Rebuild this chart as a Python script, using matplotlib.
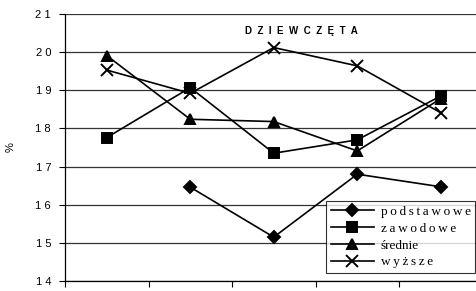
import matplotlib
matplotlib.use("Agg")
import matplotlib.pyplot as plt
import numpy as np

categories = [1, 2, 3, 4, 5]
podstawowe = [np.nan, 16.46, 15.15, 16.80, 16.47]
zawodowe = [17.76, 19.07, 17.35, 17.70, 18.85]
srednie = [19.91, 18.24, 18.18, 17.41, 18.78]
wyzsze = [19.53, 18.92, 20.12, 19.64, 18.41]

thin = "\u2009"
labels = [thin.join("podstawowe"), thin.join("zawodowe"), "średnie",
          thin.join("wyższe")]
yticks = [14, 15, 16, 17, 18, 19, 20, 21]

fig = plt.figure(figsize=(4.76, 2.91), dpi=100)
ax = fig.add_axes([65 / 476, 10 / 291, 417.5 / 476, 267 / 291])

series = [podstawowe, zawodowe, srednie, wyzsze]
markers = ["D", "s", "^", "x"]
msizes = [6, 7.5, 7, 8]
for vals, m, ms, lab in zip(series, markers, msizes, labels):
    ax.plot(categories, vals, color="black", lw=1.2, marker=m, ms=ms,
            mew=1.4, label=lab)

ax.set_xlim(0.5, 5.5)
ax.set_ylim(14, 21)
ax.set_yticks(yticks)
ax.set_yticklabels([" ".join(str(t)) for t in yticks],
                   fontsize=8, family="Liberation Sans")
ax.set_xticks(np.arange(0.5, 6, 1))
ax.set_xticklabels([])
ax.tick_params(axis="x", direction="out", length=4, width=0.8)
ax.tick_params(axis="y", direction="out", length=4, width=0.8, pad=6)
ax.yaxis.grid(True, color="0.2", lw=0.9)
ax.set_axisbelow(True)
for s in ["top", "right"]:
    ax.spines[s].set_visible(False)
ax.spines["left"].set_linewidth(0.9)
ax.spines["bottom"].set_linewidth(0.9)

ax.set_ylabel("%", fontsize=8, family="Liberation Sans", labelpad=14)

ax.text(0.43, 0.935, "  ".join("DZIEWCZĘTA"), transform=ax.transAxes,
        fontsize=7, fontweight="bold", family="Liberation Sans",
        ha="left", va="center")

leg = ax.legend(loc="lower left", bbox_to_anchor=(0.625, 0.03),
                prop={"family": "Liberation Serif", "size": 9.5},
                frameon=True, fancybox=False, edgecolor="black",
                handlelength=3.3, borderpad=0.35, labelspacing=0.35,
                handletextpad=0.5, borderaxespad=0)
leg.get_frame().set_linewidth(0.8)

fig.savefig("out.png", dpi=100)
